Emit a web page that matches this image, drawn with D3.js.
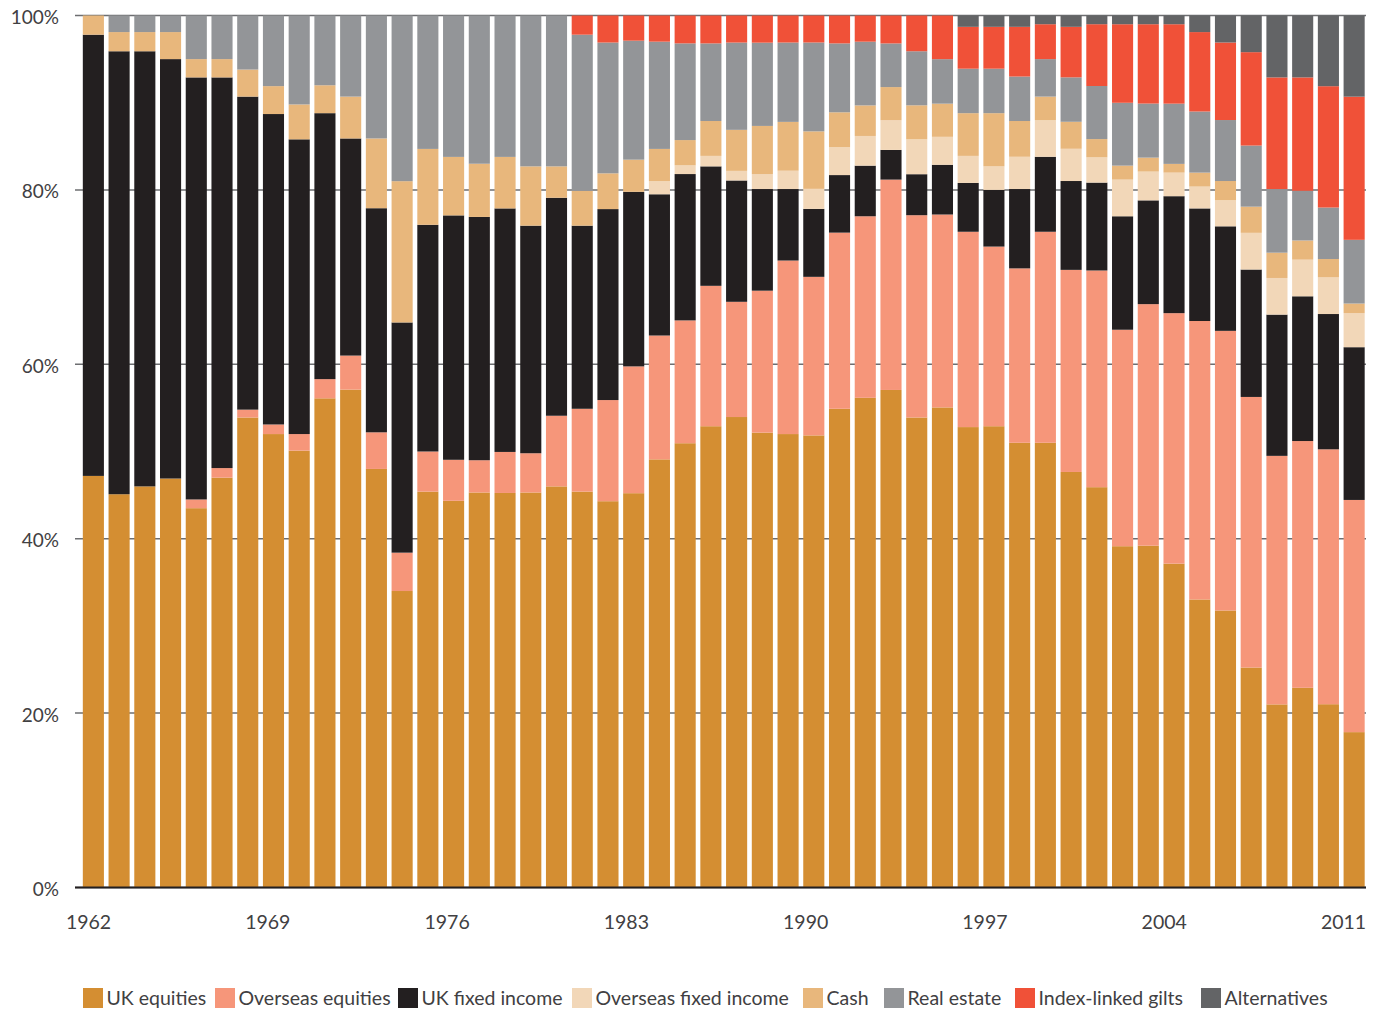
<!DOCTYPE html>
<html><head><meta charset="utf-8">
<script src="https://cdn.jsdelivr.net/npm/d3@7"></script>
<style>
body{margin:0;background:#fff;}
svg{display:block;font-family:Lato,"Open Sans",sans-serif;}
</style></head>
<body>
<svg id="chart" width="1381" height="1012"></svg>
<script>
const years = d3.range(1962, 2012);
const seriesNames = ["UK equities","Overseas equities","UK fixed income","Overseas fixed income","Cash","Real estate","Index-linked gilts","Alternatives"];
const seriesColors = ["#D48E32","#F6967A","#231F20","#F2D7B8","#E8B77C","#939598","#F05138","#636466"];
const yTicks = [0,20,40,60,80,100];
const xTickYears = [1962,1969,1976,1983,1990,1997,2004,2011];

const ukEquities = [47.2,45.1,46.0,46.9,43.5,47.0,53.9,52.0,50.1,56.1,57.1,48.0,34.0,45.4,44.3,45.3,45.2,45.3,46.0,45.4,44.3,45.4,49.1,51.0,52.9,53.9,51.9,52.0,51.9,54.9,56.1,57.0,53.9,55.0,52.8,52.9,51.0,51.0,47.7,46.0,39.1,39.2,37.1,33.0,31.8,25.2,21.0,22.9,21.0,17.8];
const overseasEquities = [0,0,0,0,1.0,1.1,0.9,1.1,1.9,2.2,3.9,4.2,4.4,4.6,4.7,3.7,4.7,4.5,8.1,9.5,11.6,14.6,14.2,14.1,16.1,13.2,16.2,19.9,18.2,20.2,20.8,24.1,23.2,22.1,22.4,20.6,20.0,24.2,23.2,24.9,24.8,27.7,28.7,31.9,32.1,31.0,28.5,28.3,29.2,26.6];
const ukFixedIncome = [50.6,50.8,49.9,48.1,48.4,44.8,35.9,35.6,33.8,30.5,24.9,25.7,26.4,26.0,28.0,27.9,27.9,26.1,25.0,21.0,21.9,20.1,16.2,16.8,13.7,13.9,11.6,8.2,7.8,6.6,5.8,3.4,4.7,5.7,5.6,6.5,9.1,8.6,10.2,10.1,13.0,11.9,13.4,12.9,12.0,14.6,16.2,16.6,15.5,17.5];
const overseasFixedIncome = [0,0,0,0,0,0,0,0,0,0,0,0,0,0,0,0,0,0,0,0,0,0,1.5,1.0,1.2,1.1,1.7,2.1,2.3,3.2,3.4,3.4,4.0,3.2,3.1,2.7,3.7,4.2,3.7,2.9,4.2,3.3,2.7,2.5,3.0,4.2,4.2,4.2,4.2,3.9];
const cash = [2.2,2.2,2.2,3.1,2.1,2.1,3.1,3.2,4.0,3.2,4.8,8.0,16.2,8.7,6.7,6.1,5.9,6.8,3.6,4.0,4.1,3.7,3.7,2.9,4.0,4.7,5.5,5.6,6.6,4.0,3.5,3.8,3.9,3.8,4.9,6.1,4.1,2.7,3.1,2.1,1.6,1.6,1.0,1.6,2.2,3.0,2.9,2.2,2.1,1.1];
const realEstate = [0,1.9,1.9,1.9,5.0,5.0,6.2,8.1,10.2,8.0,9.3,14.1,19.0,15.3,16.2,17.0,16.2,17.3,17.3,17.9,15.0,13.7,12.3,11.1,8.9,10.0,9.5,9.1,10.2,7.9,7.3,5.0,6.2,5.1,5.1,5.1,5.1,4.3,5.1,6.1,7.2,6.2,6.9,7.0,7.0,7.0,7.3,5.7,5.9,7.3];
const indexLinkedGilts = [0,0,0,0,0,0,0,0,0,0,0,0,0,0,0,0,0,0,0,2.2,3.1,2.9,3.0,3.2,3.2,3.1,3.1,3.1,3.1,3.2,3.0,3.2,4.1,5.0,4.8,4.8,5.7,4.0,5.8,7.1,9.0,9.1,9.1,9.1,8.9,10.7,12.8,13.0,13.9,16.4];
const alternatives = [0,0,0,0,0,0,0,0,0,0,0,0,0,0,0,0,0,0,0,0,0,0,0,0,0,0,0,0,0,0,0,0,0,0,1.3,1.3,1.3,1.0,1.3,1.0,1.0,1.0,1.0,1.9,3.1,4.2,7.1,7.1,8.1,9.3];

const seriesValues = [ukEquities,overseasEquities,ukFixedIncome,overseasFixedIncome,cash,realEstate,indexLinkedGilts,alternatives];

const rows = years.map((yr,i)=>{
  const r = {year: yr};
  seriesNames.forEach((s,j)=>{ r[s] = seriesValues[j][i]; });
  return r;
});

const svg = d3.select("#chart");
const plotL = 75, plotR = 1366, yTop = 15.5, yBot = 887.5;

const x = d3.scaleBand().domain(years).range([80.5, 1367]).paddingInner(0.18).paddingOuter(0.09);
const y = d3.scaleLinear().domain([0,1]).range([yBot, yTop]);
// label positions for the year ticks (spread slightly tighter than bars, as in the original)
const xLabel = d3.scaleLinear().domain([1962, 2011]).range([88, 1343]);

const stack = d3.stack().keys(seriesNames).offset(d3.stackOffsetExpand);
const stacked = stack(rows);

// gridlines
svg.append("g").selectAll("line").data(yTicks).join("line")
  .attr("x1", plotL).attr("x2", plotR)
  .attr("y1", d=>y(d/100)).attr("y2", d=>y(d/100))
  .attr("stroke", "#6d6e71").attr("stroke-width", 1.5);

// bars
svg.append("g").selectAll("g").data(stacked).join("g")
  .attr("fill", (d,i)=>seriesColors[i])
  .selectAll("rect").data(d=>d).join("rect")
  .attr("x", d=>x(d.data.year))
  .attr("width", x.bandwidth())
  .attr("y", d=>y(d[1]))
  .attr("height", d=>Math.max(0, y(d[0])-y(d[1])));

// baseline
svg.append("line").attr("x1", plotL).attr("x2", plotR)
  .attr("y1", yBot).attr("y2", yBot).attr("stroke","#231f20").attr("stroke-width",2);

// y labels
const yAxis = d3.axisLeft(y).tickValues(yTicks.map(d=>d/100)).tickFormat(d=>Math.round(d*100)+"%").tickSize(0).tickPadding(0);
const ya = svg.append("g").attr("transform","translate(59,2)").call(yAxis);
ya.select(".domain").remove();
ya.selectAll("text").attr("font-size",19).attr("fill","#414042").attr("font-family","Lato, sans-serif");

// x labels
const xAxis = d3.axisBottom(xLabel).tickValues(xTickYears).tickFormat(d3.format("d")).tickSize(0).tickPadding(0);
const xa = svg.append("g").attr("transform","translate(0,915)").call(xAxis);
xa.select(".domain").remove();
xa.selectAll("text").attr("font-size",19.5).attr("fill","#414042").attr("font-family","Lato, sans-serif");

// legend
const legendX = [83, 215, 398, 572, 803, 884, 1015, 1201];
const legend = svg.append("g").attr("transform","translate(0,988)");
seriesNames.forEach((name,i)=>{
  const g = legend.append("g").attr("transform",`translate(${legendX[i]},0)`);
  g.append("rect").attr("width",20).attr("height",20).attr("fill",seriesColors[i]);
  g.append("text").attr("x",23.5).attr("y",17).attr("font-size",19.5)
    .attr("fill","#414042").text(name);
});
</script>
</body></html>
